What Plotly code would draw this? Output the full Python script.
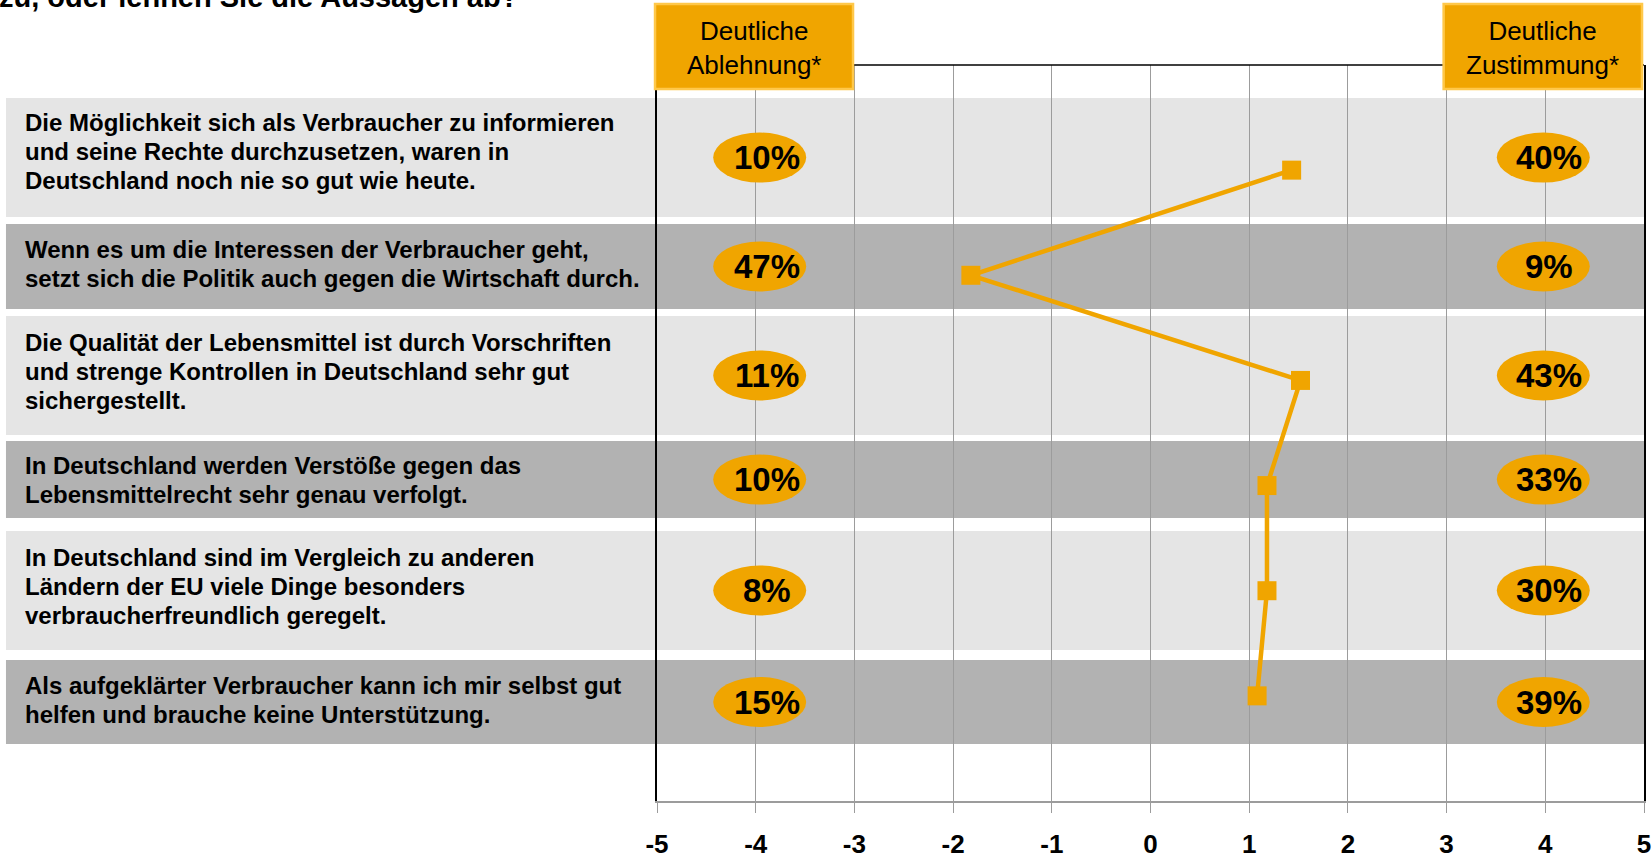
import plotly.graph_objects as go

# statements, top to bottom
statements = [
    "Die Möglichkeit sich als Verbraucher zu informieren<br>und seine Rechte durchzusetzen, waren in<br>Deutschland noch nie so gut wie heute.",
    "Wenn es um die Interessen der Verbraucher geht,<br>setzt sich die Politik auch gegen die Wirtschaft durch.",
    "Die Qualität der Lebensmittel ist durch Vorschriften<br>und strenge Kontrollen in Deutschland sehr gut<br>sichergestellt.",
    "In Deutschland werden Verstöße gegen das<br>Lebensmittelrecht sehr genau verfolgt.",
    "In Deutschland sind im Vergleich zu anderen<br>Ländern der EU viele Dinge besonders<br>verbraucherfreundlich geregelt.",
    "Als aufgeklärter Verbraucher kann ich mir selbst gut<br>helfen und brauche keine Unterstützung.",
]
mean_score = [1.43, -1.82, 1.52, 1.18, 1.18, 1.08]
ablehnung_pct = [10, 47, 11, 10, 8, 15]
zustimmung_pct = [40, 9, 43, 33, 30, 39]
row_pos = [6, 5, 4, 3, 2, 1]
x_ticks = [-5, -4, -3, -2, -1, 0, 1, 2, 3, 4, 5]

header_left = "Deutliche<br>Ablehnung*"
header_right = "Deutliche<br>Zustimmung*"
question_tail = "zu, oder lehnen Sie die Aussagen ab?"

ORANGE = "#f0a500"
FONT = "Liberation Sans, Arial, sans-serif"

# band edges (y units) for the grey row backgrounds
band_top = [6.686, 5.488, 4.613, 3.424, 2.568, 1.341]
band_bot = [5.554, 4.679, 3.481, 2.691, 1.436, 0.542]
band_col = ["#e5e5e5", "#b2b2b2"] * 3
text_nudge = [6, 3, 4, 0, 4, 2]  # px, vertical tweak of statement text

fig = go.Figure()

fig.add_trace(go.Scatter(
    x=mean_score, y=row_pos,
    mode="lines+markers",
    line=dict(color=ORANGE, width=4.5),
    marker=dict(symbol="square", size=19, color=ORANGE),
    showlegend=False, hoverinfo="skip",
))

shapes = []
annotations = []

for i, s in enumerate(statements):
    yc = (band_top[i] + band_bot[i]) / 2
    shapes.append(dict(type="rect", xref="paper", yref="y", layer="below",
                       x0=-0.6596, x1=1.0, y0=band_bot[i], y1=band_top[i],
                       fillcolor=band_col[i], line_width=0))
    lines = s.split("<br>")
    n = len(lines)
    for k, ln in enumerate(lines):
        annotations.append(dict(
            text=ln, xref="paper", yref="y", x=-0.6423, y=yc,
            xanchor="left", yanchor="middle", showarrow=False,
            yshift=((n - 1) / 2 - k) * 29 + text_nudge[i],
            font=dict(family=FONT, size=24, color="black", weight="bold"),
        ))
    for xv, pct, ell_dx, txt_dx in ((-4, ablehnung_pct[i], 4, 11),
                                    (4, zustimmung_pct[i], -2, 4)):
        shapes.append(dict(type="circle", xref="x", yref="y", layer="above",
                           xsizemode="pixel", ysizemode="pixel",
                           xanchor=xv, yanchor=yc,
                           x0=-46.5 + ell_dx, x1=46.5 + ell_dx, y0=-25, y1=25,
                           fillcolor=ORANGE, line_width=0))
        annotations.append(dict(
            text=f"{pct}%", xref="x", yref="y", x=xv, y=yc,
            xshift=txt_dx, showarrow=False,
            font=dict(family=FONT, size=33, color="black", weight="bold"),
        ))

# top border line
shapes.append(dict(type="line", xref="paper", yref="paper", x0=0, x1=1,
                   y0=1, y1=1, line=dict(color="black", width=1.5)))

# header boxes
for (x0, x1), txt in (((-0.002, 0.1986), header_left), ((0.797, 0.998), header_right)):
    shapes.append(dict(type="rect", xref="paper", yref="paper", layer="above",
                       x0=x0, x1=x1, y0=0.9674, y1=1.0829,
                       fillcolor=ORANGE, line=dict(color="#ffc84a", width=2.5)))
    annotations.append(dict(
        text=txt, xref="paper", yref="paper", x=(x0 + x1) / 2, y=1.0234,
        xanchor="center", yanchor="middle", showarrow=False,
        font=dict(family=FONT, size=26, color="black"),
    ))

annotations.append(dict(
    text=question_tail, xref="paper", yref="paper", x=-0.6690, y=1.068,
    xanchor="left", yanchor="bottom", showarrow=False,
    font=dict(family=FONT, size=29, color="black", weight="bold"),
))

fig.update_layout(
    width=1652, height=858,
    margin=dict(l=657, r=8, t=65, b=57),
    paper_bgcolor="white", plot_bgcolor="white",
    shapes=shapes, annotations=annotations,
    showlegend=False,
)
fig.update_xaxes(
    range=[-5, 5], tickvals=x_ticks, ticktext=[str(v) for v in x_ticks],
    showgrid=True, gridcolor="#9c9c9c", gridwidth=1,
    zeroline=False, showline=True, linecolor="#9c9c9c", linewidth=1.5,
    ticks="outside", ticklen=10, tickcolor="#9c9c9c", tickwidth=1,
    ticklabelstandoff=9, automargin=False, ticklabeloverflow="allow",
    tickfont=dict(family=FONT, size=26, color="black", weight="bold"),
    fixedrange=True,
)
fig.update_yaxes(
    range=[0, 7], showgrid=False, zeroline=False, showticklabels=False,
    showline=True, linecolor="black", linewidth=1.5, mirror=True,
    automargin=False, fixedrange=True,
)

fig.write_html("out.html", config={"displayModeBar": False},
               post_script="document.body.style.margin='0';")
